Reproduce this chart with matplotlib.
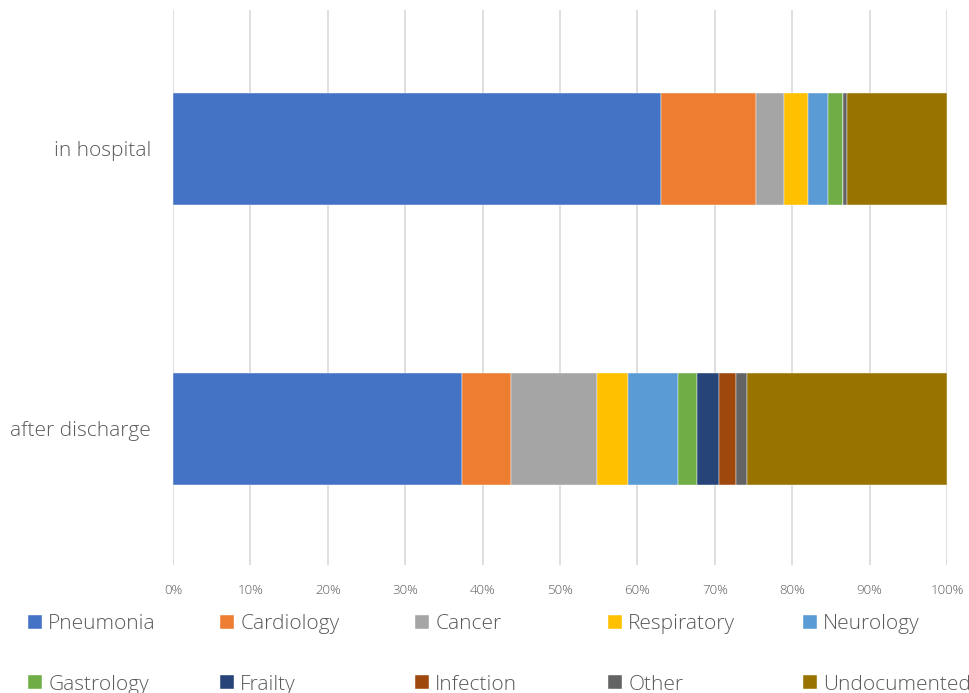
import matplotlib
matplotlib.use('Agg')
import matplotlib.pyplot as plt
import numpy as np

plt.rcParams['font.family'] = ['Open Sans', 'DejaVu Sans']
plt.rcParams['font.weight'] = 'light'

categories = ['after discharge', 'in hospital']
series = ['Pneumonia', 'Cardiology', 'Cancer', 'Respiratory', 'Neurology',
          'Gastrology', 'Frailty', 'Infection', 'Other', 'Undocumented']
# percentages, [after discharge, in hospital]
pneumonia = [37.3, 63.0]
cardiology = [6.4, 12.3]
cancer = [11.1, 3.7]
respiratory = [4.0, 3.1]
neurology = [6.5, 2.5]
gastrology = [2.4, 1.9]
frailty = [2.9, 0.0]
infection = [2.2, 0.0]
other = [1.4, 0.6]
undocumented = [25.8, 12.9]
values = [pneumonia, cardiology, cancer, respiratory, neurology,
          gastrology, frailty, infection, other, undocumented]
colors = ['#4472C4', '#ED7D31', '#A5A5A5', '#FFC000', '#5B9BD5',
          '#70AD47', '#264478', '#9E480E', '#636363', '#997300']
xticks = np.arange(0, 101, 10)

textcol = '#595959'

fig = plt.figure(figsize=(9.7, 6.93), dpi=100)
ax = fig.add_axes([173/970, 1 - 565/693, (947-173)/970, (565-10)/693])

ypos = np.arange(len(categories))
left = np.zeros(len(categories))
handles = []
for name, vals, col in zip(series, values, colors):
    vals = np.array(vals)
    b = ax.barh(ypos, vals, left=left, height=0.4, color=col,
                edgecolor='white', linewidth=0.3, label=name)
    handles.append(b)
    left += vals

ax.set_xlim(0, 100)
ax.set_ylim(-0.486, 1.496)
ax.set_xticks(xticks)
ax.set_xticklabels([str(t) + '%' for t in xticks], fontsize=9.5, color=textcol)
ax.set_yticks(ypos)
ax.set_yticklabels(categories, fontsize=15, color=textcol)
ax.tick_params(axis='x', length=0, pad=14)
ax.tick_params(axis='y', length=0, pad=16)
ax.grid(axis='x', color='#D9D9D9', linewidth=1.2)
ax.set_axisbelow(True)
for s in ax.spines.values():
    s.set_visible(False)

# one legend per column so columns are evenly spaced
colx = [28, 220, 415, 608, 803]
for i, x in enumerate(colx):
    hs = [handles[i], handles[i + 5]]
    ls = [series[i], series[i + 5]]
    fig.legend(hs, ls, loc='upper left', bbox_to_anchor=(x/970, 1 - 614/693),
               frameon=False, fontsize=15, handlelength=0.67, handleheight=0.67,
               handletextpad=0.3, borderpad=0, borderaxespad=0, labelspacing=1.95,
               labelcolor=textcol)

fig.savefig('out.png', dpi=100)
